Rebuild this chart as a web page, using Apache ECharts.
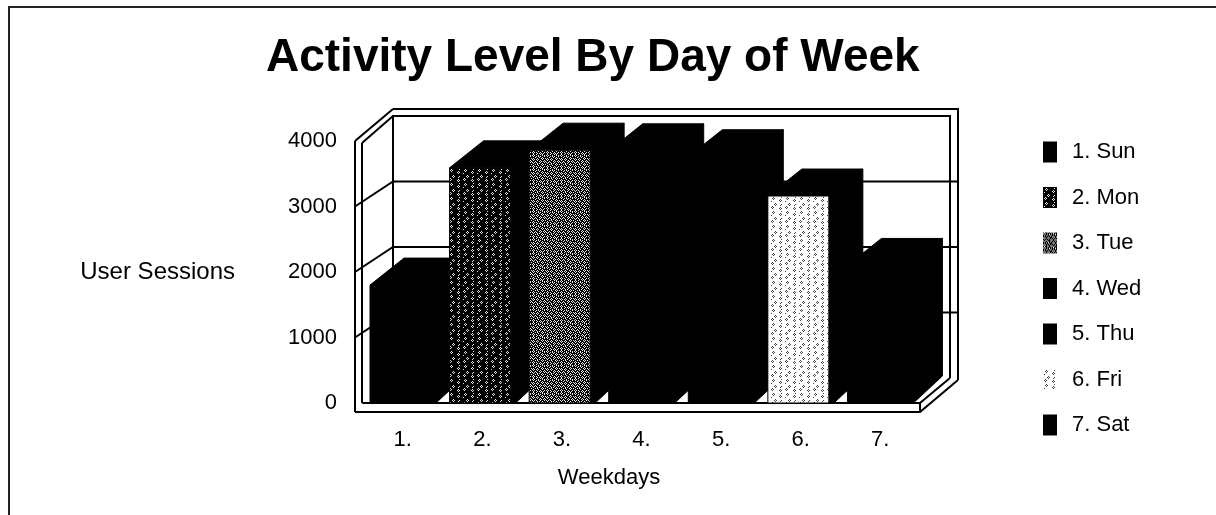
<!DOCTYPE html>
<html>
<head>
    <meta charset="utf-8" />
    <title>Activity Level By Day of Week</title>
    <script src="https://cdn.jsdelivr.net/npm/echarts@6/dist/echarts.min.js"></script>
    <style>
        html, body { margin: 0; padding: 0; background: #fff; }
        #main { width: 1216px; height: 515px; }
    </style>
</head>
<body>
<div id="main"></div>
<script>
var titleText = 'Activity Level By Day of Week';
var weekdayTicks = ['1.', '2.', '3.', '4.', '5.', '6.', '7.'];
var dayNames = ['1. Sun', '2. Mon', '3. Tue', '4. Wed', '5. Thu', '6. Fri', '7. Sat'];
var sessions = [1800, 3590, 3860, 3850, 3760, 3160, 2100];
var gridValues = [1000, 2000, 3000];

var INK = '#000';

// speckled fills for the bars, one string per pixel row
function speckle(bg, fg, rows) {
    var c = document.createElement('canvas');
    c.width = rows[0].length;
    c.height = rows.length;
    var ctx = c.getContext('2d');
    ctx.fillStyle = bg;
    ctx.fillRect(0, 0, c.width, c.height);
    ctx.fillStyle = fg;
    rows.forEach(function (r, y) {
        for (var x = 0; x < r.length; x++) {
            if (r[x] === '#') ctx.fillRect(x, y, 1, 1);
        }
    });
    return { image: c, repeat: 'repeat' };
}
var rings = [
    '..............',
    '...#.......#..',
    '..#.#.........',
    '...#......#...',
    '.........#.#..',
    '.#........#...',
    '..............',
    '.....#........',
    '....#.#....#..',
    '.....#....#...',
    '..#...........',
    '.#.#......#...',
    '..#......#.#..',
    '..........#...'
];
var busy = [
    '.#..#...#.#...',
    '#.#...#...#.#.',
    '.#..#.#.#...#.',
    '...#...#..#...',
    '.#...#...#.#.#',
    '#.#.#.#...#...',
    '.#...#..#...#.',
    '...#...#.#.#.#',
    '#.#.#...#...#.',
    '.#...#.#..#...',
    '...#.#...#.#.#',
    '.#....#...#...',
    '#.#.#...#...#.',
    '.#...#.#.#.#..'
];
var fills = [
    INK,
    speckle(INK, '#e4e4e4', rings),
    speckle(INK, '#e8e8e8', busy),
    INK,
    INK,
    speckle('#fff', '#444', rings),
    INK
];

// depth of a bar and of the chart box, as drawn by the old 3D chart
var BAR_DX = 34, BAR_DY = -27, BOX_DX = 30, BOX_DY = -25;

function renderBox(params, api) {
    var g = params.coordSys;
    var l = g.x, r = g.x + g.width, t = g.y, b = g.y + g.height;
    var line = { stroke: INK, lineWidth: 2, fill: null };
    function poly(pts) { return { type: 'polyline', shape: { points: pts }, style: line, silent: true }; }
    var bl = l + BOX_DX, br = r + BOX_DX, bt = t + BOX_DY, bb = b + BOX_DY;
    var out = [
        // back wall
        poly([[bl, bb], [bl, bt], [br, bt], [br, bb]]),
        poly([[bl - 0, bt - 7], [br + 8, bt - 7], [br + 8, bb + 2]]),
        // side wall
        poly([[l - 8, t], [l - 8, b + 9]]),
        poly([[l - 1, t + 2], [l - 1, b]]),
        poly([[l - 8, t], [bl, bt - 7]]),
        poly([[l - 1, t + 2], [bl, bt]]),
        // floor
        poly([[l - 8, b + 9], [r, b + 9], [br + 8, bb + 2]]),
        poly([[r, b], [r, b + 9]]),
        poly([[r, b], [br, bb]])
    ];
    gridValues.forEach(function (v) {
        var y = api.coord([0, v])[1];
        out.push(poly([[l - 8, y], [bl, y + BOX_DY], [br + 8, y + BOX_DY]]));
    });
    return { type: 'group', children: out };
}

function renderBar(params, api) {
    var top = api.coord([api.value(0), api.value(1)]);
    var base = api.coord([api.value(0), 0]);
    var band = api.size([1, 0])[0];
    var x = top[0] - band / 2 + 7, w = 61;
    var black = { fill: INK, stroke: INK, lineWidth: 1 };
    return {
        type: 'group',
        children: [
            { type: 'polygon', shape: { points: [[x, top[1]], [x + BAR_DX, top[1] + BAR_DY], [x + w + BAR_DX, top[1] + BAR_DY], [x + w, top[1]]] }, style: black },
            { type: 'polygon', shape: { points: [[x + w, top[1]], [x + w + BAR_DX, top[1] + BAR_DY], [x + w + BAR_DX, base[1] + BAR_DY], [x + w + 5, base[1]], [x + w, base[1]]] }, style: black },
            { type: 'rect', shape: { x: x, y: top[1], width: w, height: base[1] - top[1] }, style: { fill: api.visual('color'), stroke: INK, lineWidth: 1 } }
        ]
    };
}

var series = [{
    name: 'box',
    type: 'custom',
    renderItem: renderBox,
    data: [[0, 0]],
    silent: true,
    z: 1
}];
dayNames.forEach(function (name, i) {
    series.push({
        name: name,
        type: 'custom',
        renderItem: renderBar,
        encode: { x: 0, y: 1 },
        data: [[i, sessions[i]]],
        itemStyle: { color: fills[i] },
        z: 2 + i
    });
});

var myChart = echarts.init(document.getElementById('main'));
myChart.setOption({
    animation: false,
    backgroundColor: '#fff',
    textStyle: { fontFamily: 'Liberation Sans', color: '#000' },
    title: {
        text: titleText,
        left: 261,
        top: 30,
        textStyle: { fontFamily: 'Liberation Sans', fontSize: 46, fontWeight: 'bold', color: '#000' }
    },
    grid: { left: 363, top: 141, width: 557, height: 262 },
    legend: {
        orient: 'vertical',
        left: 1038,
        top: 136,
        itemWidth: 14,
        itemHeight: 21,
        itemGap: 23.5,
        icon: 'rect',
        selectedMode: false,
        data: dayNames,
        textStyle: { fontSize: 22, color: '#000', padding: [0, 0, 0, 10] }
    },
    xAxis: {
        type: 'category',
        data: weekdayTicks,
        name: 'Weekdays',
        nameLocation: 'middle',
        nameGap: 64,
        nameTextStyle: { fontSize: 22, color: '#000', padding: [0, 65, 0, 0] },
        axisLine: { lineStyle: { color: INK, width: 2 } },
        axisTick: { length: 9, lineStyle: { color: INK, width: 2 } },
        axisLabel: { fontSize: 22, color: '#000', margin: 26 }
    },
    yAxis: {
        type: 'value',
        min: 0,
        max: 4000,
        interval: 1000,
        name: 'User Sessions',
        nameLocation: 'middle',
        nameRotate: 0,
        nameGap: 128,
        nameTextStyle: { fontSize: 24, color: '#000', padding: [0, 0, 18, 0] },
        axisLine: { show: false },
        axisTick: { show: false },
        splitLine: { show: false },
        axisLabel: {
            fontSize: 22,
            color: '#000',
            margin: 26,
            formatter: function (v) { return String(v); }
        }
    },
    graphic: [
        { type: 'polyline', shape: { points: [[9, 515], [9, 7], [1216, 7]] }, style: { stroke: '#222', lineWidth: 2, fill: null }, silent: true }
    ],
    series: series
});
</script>
</body>
</html>
